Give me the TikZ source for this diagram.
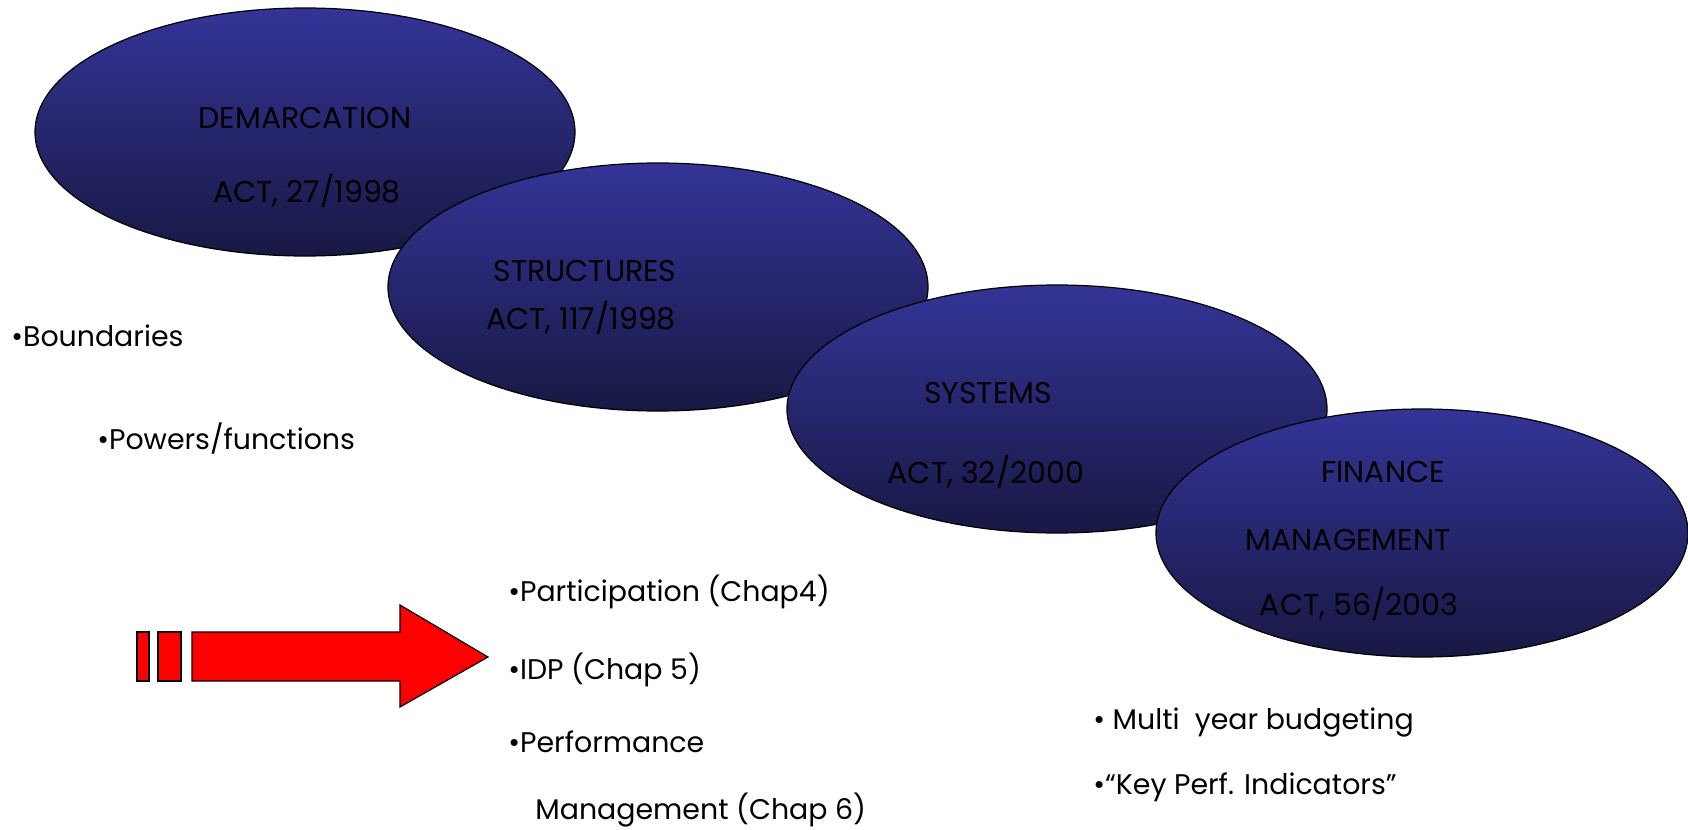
\documentclass[tikz,border=0pt]{standalone}
\usepackage{fontspec}
\setmainfont{Poppins}
\usetikzlibrary{shapes.geometric}
\definecolor{ovtop}{RGB}{52,52,152}
\definecolor{ovbot}{RGB}{24,24,68}
\definecolor{arrred}{RGB}{255,0,0}
\tikzset{
  oval/.style={ellipse, draw=black, line width=0.6pt, top color=ovtop, bottom color=ovbot, minimum width=270pt, minimum height=124pt, inner sep=0pt},
  ovtxt/.style={font=\fontsize{15}{17}\selectfont, text=black, inner sep=0pt},
  bul/.style={font=\fontsize{14.2}{16}\selectfont, text=black, anchor=west, inner sep=0pt},
  redpart/.style={fill=arrred, draw=black, line width=0.6pt}
}
\begin{document}
\begin{tikzpicture}[x=0.5pt,y=-0.5pt]
\useasboundingbox (0,0) rectangle (1688,830);
\node[oval] (e1) at (305,132) {};
\node[oval] (e2) at (658,287) {};
\node[oval] (e3) at (1057,409) {};
\node[oval, minimum width=266pt] (e4) at (1422,533) {};
\node[ovtxt] (t1a) at (305,118) {DEMARCATION};
\node[ovtxt] (t1b) at (307,191) {ACT, 27/1998};
\node[ovtxt] (t2a) at (585,271) {STRUCTURES};
\node[ovtxt] (t2b) at (581,318) {ACT, 117/1998};
\node[ovtxt] (t3a) at (988,393) {SYSTEMS};
\node[ovtxt] (t3b) at (986,472) {ACT, 32/2000};
\node[ovtxt] (t4a) at (1383,472) {FINANCE};
\node[ovtxt] (t4b) at (1348,540) {MANAGEMENT};
\node[ovtxt] (t4c) at (1359,604) {ACT, 56/2003};
\node[bul] (b1) at (11,336) {•Boundaries};
\node[bul] (b2) at (97,439) {•Powers/functions};
\node[bul] (b3) at (508,592) {•Participation (Chap4)};
\node[bul] (b4) at (508,670) {•IDP (Chap 5)};
\node[bul] (b5) at (508,742) {•Performance};
\node[bul] (b6) at (535,810) {Management (Chap 6)};
\node[bul] (b7) at (1093,723) {• Multi\ \ year budgeting};
\node[bul] (b8) at (1093,787) {•“Key Perf. Indicators”};
\draw[redpart] (137,632) rectangle (149,681);
\draw[redpart] (158,632) rectangle (181,681);
\draw[redpart] (192,632) -- (400,632) -- (400,605) -- (488,657) -- (400,707) -- (400,681) -- (192,681) -- cycle;
\end{tikzpicture}
\end{document}
